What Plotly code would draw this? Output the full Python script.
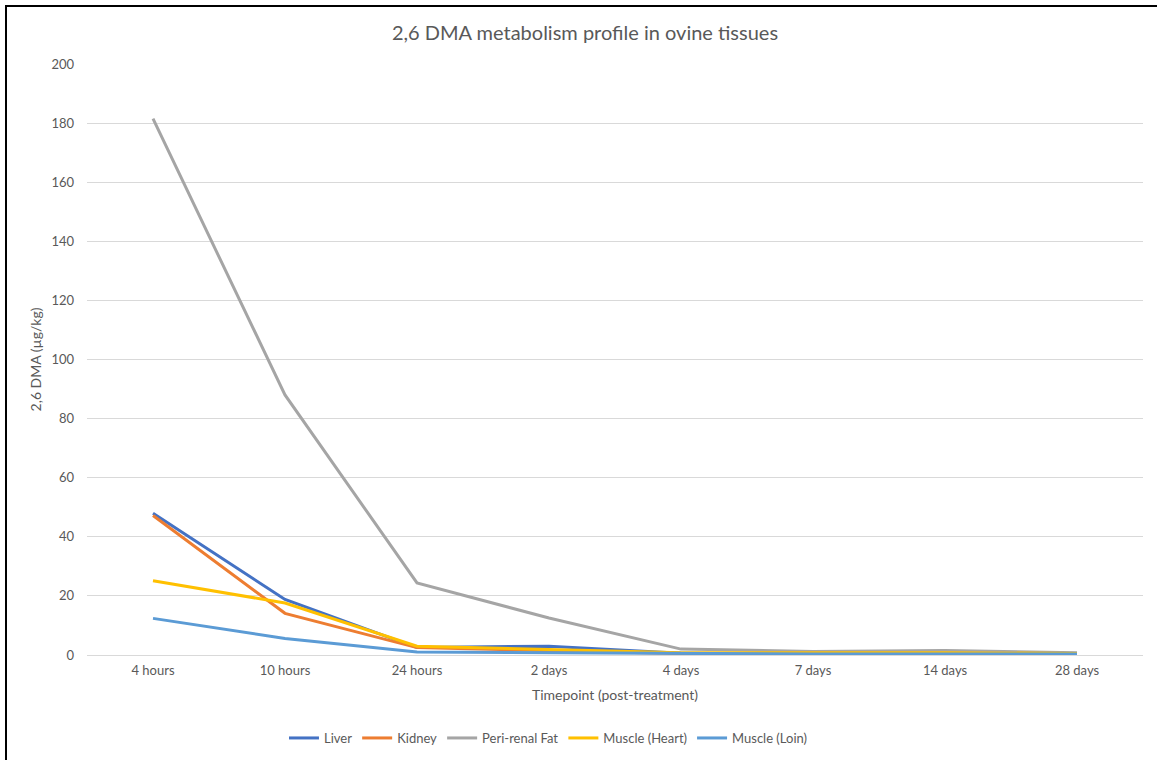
import plotly.graph_objects as go

timepoints = ["4 hours", "10 hours", "24 hours", "2 days", "4 days", "7 days", "14 days", "28 days"]
liver = [48.0, 18.8, 2.5, 3.0, 0.6, 0.5, 0.5, 0.3]
kidney = [47.2, 14.1, 2.5, 1.5, 0.5, 0.5, 0.5, 0.3]
fat = [181.5, 88.0, 24.4, 12.5, 2.0, 1.2, 1.5, 0.8]
heart = [25.1, 17.6, 3.0, 2.0, 0.8, 0.8, 0.8, 0.5]
loin = [12.4, 5.6, 1.0, 0.8, 0.4, 0.3, 0.3, 0.3]

series = [
    ("Liver", liver, "#4472C4"),
    ("Kidney", kidney, "#ED7D31"),
    ("Peri-renal Fat", fat, "#A5A5A5"),
    ("Muscle (Heart)", heart, "#FFC000"),
    ("Muscle (Loin)", loin, "#5B9BD5"),
]

FONT = "Lato, 'Open Sans', sans-serif"
GREY = "#595959"

fig = go.Figure()
for name, vals, col in series:
    fig.add_trace(go.Scatter(x=timepoints, y=vals, name=name, mode="lines",
                             line=dict(color=col, width=3)))

fig.update_layout(
    width=1157, height=760,
    margin=dict(l=87, r=14, t=64, b=105, autoexpand=False),
    paper_bgcolor="white", plot_bgcolor="white",
    font=dict(family=FONT, color=GREY, size=13),
    title=dict(text="2,6 DMA metabolism profile in ovine tissues", x=585 / 1157, xref="container",
               y=1 - 33 / 760, yref="container", yanchor="middle", xanchor="center",
               font=dict(size=20, color=GREY, family=FONT)),
    legend=dict(orientation="h", x=0.437, xanchor="center", y=-(738 - 655) / 591, yanchor="middle",
                font=dict(size=13, color=GREY), itemwidth=30, traceorder="normal"),
    showlegend=True,
)
fig.update_xaxes(type="category", range=[-0.5, 7.5], showgrid=False, showline=False,
                 zeroline=False, ticks="", ticklabelstandoff=6, automargin=False,
                 title=dict(text="Timepoint (post-treatment)", font=dict(size=14, color=GREY), standoff=13))
fig.update_yaxes(range=[0, 200], dtick=20, showgrid=True, gridcolor="#D9D9D9", gridwidth=1,
                 zeroline=True, zerolinecolor="#D9D9D9", zerolinewidth=1, showline=False,
                 ticks="", ticklabelstandoff=12, automargin=False,
                 title=dict(text="2,6 DMA (µg/kg)", font=dict(size=14, color=GREY), standoff=6))

# chart border
fig.add_shape(type="rect", xref="paper", yref="paper",
              x0=-81 / 1056, x1=1.1, y0=-0.3, y1=(655 - 6) / 591,
              line=dict(color="black", width=2), fillcolor="rgba(0,0,0,0)", layer="above")

fig.write_html("out.html")
